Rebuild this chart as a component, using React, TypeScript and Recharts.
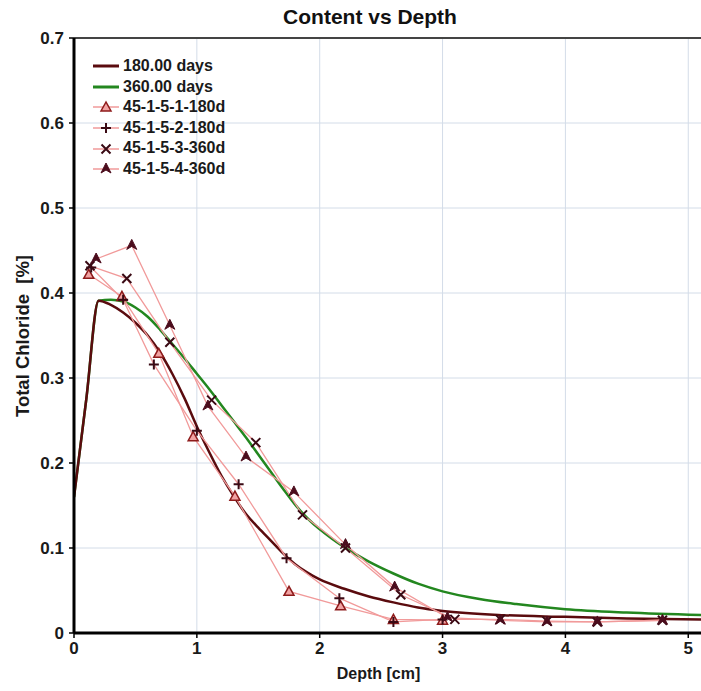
import React from 'react';
import { LineChart, Line, XAxis, YAxis, CartesianGrid, Legend, ReferenceLine } from 'recharts';

// model curves
const depth180 = [0, 0.1, 0.2, 0.3, 0.4, 0.5, 0.6, 0.7, 0.8, 0.9, 1.0, 1.1, 1.2, 1.3, 1.4, 1.5, 1.6, 1.7, 1.8, 1.9, 2.0, 2.2, 2.4, 2.6, 2.8, 3.0, 3.5, 4.0, 4.5, 5.12];
const chloride180 = [0.16, 0.275, 0.391, 0.386, 0.377, 0.365, 0.35, 0.33, 0.305, 0.276, 0.243, 0.213, 0.185, 0.161, 0.14, 0.124, 0.109, 0.094, 0.081, 0.071, 0.063, 0.052, 0.043, 0.036, 0.03, 0.026, 0.021, 0.019, 0.017, 0.016];
const depth360 = [0, 0.1, 0.2, 0.3, 0.4, 0.5, 0.6, 0.7, 0.8, 0.9, 1.0, 1.1, 1.2, 1.3, 1.4, 1.5, 1.6, 1.7, 1.8, 1.9, 2.0, 2.1, 2.2, 2.4, 2.6, 2.8, 3.0, 3.3, 3.6, 4.0, 4.5, 5.12];
const chloride360 = [0.16, 0.275, 0.391, 0.392, 0.39, 0.383, 0.372, 0.357, 0.34, 0.323, 0.305, 0.287, 0.268, 0.249, 0.23, 0.21, 0.19, 0.17, 0.151, 0.135, 0.122, 0.111, 0.101, 0.084, 0.07, 0.058, 0.049, 0.04, 0.034, 0.028, 0.024, 0.021];

// measured profiles
const depthS1 = [0.12, 0.39, 0.69, 0.97, 1.31, 1.75, 2.17, 2.6, 3.0];
const chlorideS1 = [0.422, 0.396, 0.329, 0.231, 0.161, 0.049, 0.032, 0.016, 0.015];
const depthS2 = [0.14, 0.4, 0.65, 1.0, 1.34, 1.73, 2.16, 2.6, 3.0];
const chlorideS2 = [0.43, 0.392, 0.316, 0.238, 0.175, 0.088, 0.041, 0.013, 0.016];
const depthS3 = [0.13, 0.43, 0.78, 1.12, 1.48, 1.86, 2.21, 2.66, 3.1, 3.47, 3.85, 4.26, 4.79];
const chlorideS3 = [0.432, 0.417, 0.342, 0.274, 0.224, 0.139, 0.1, 0.045, 0.016, 0.016, 0.014, 0.013, 0.015];
const depthS4 = [0.18, 0.47, 0.78, 1.09, 1.4, 1.79, 2.21, 2.61, 3.04, 3.47, 3.85, 4.26, 4.79];
const chlorideS4 = [0.44, 0.456, 0.362, 0.267, 0.207, 0.166, 0.104, 0.054, 0.018, 0.015, 0.013, 0.013, 0.015];

const xTicks = [0, 1, 2, 3, 4, 5];
const yTicks = [0, 0.1, 0.2, 0.3, 0.4, 0.5, 0.6, 0.7];
const seriesNames = ['180.00 days', '360.00 days', '45-1-5-1-180d', '45-1-5-2-180d', '45-1-5-3-360d', '45-1-5-4-360d'];

const toPoints = (xs: number[], ys: number[]) => xs.map((x, i) => ({ x, y: ys[i] }));

const FONT = '"Liberation Sans", Arial, sans-serif';
const C180 = '#5a0b0e';
const C360 = '#23871f';
const PINK = '#f19a9a';
const DARK = '#3a0a14';

function OpenTri({ cx, cy }: { cx: number; cy: number }) {
  return <polygon points={`${cx},${cy - 5} ${cx - 5},${cy + 4} ${cx + 5},${cy + 4}`} fill="#f1a3a3" stroke="#8e1b1b" strokeWidth={1.5} />;
}
function Plus({ cx, cy }: { cx: number; cy: number }) {
  return <path d={`M${cx - 5},${cy} H${cx + 5} M${cx},${cy - 5} V${cy + 5}`} stroke={DARK} strokeWidth={2} fill="none" />;
}
function Cross({ cx, cy }: { cx: number; cy: number }) {
  return <path d={`M${cx - 4.5},${cy - 4.5} L${cx + 4.5},${cy + 4.5} M${cx + 4.5},${cy - 4.5} L${cx - 4.5},${cy + 4.5}`} stroke={DARK} strokeWidth={2} fill="none" />;
}
function FilledTri({ cx, cy }: { cx: number; cy: number }) {
  return <polygon points={`${cx},${cy - 6} ${cx + 5},${cy + 4} ${cx},${cy + 1} ${cx - 5},${cy + 4}`} fill="#4b0c1c" stroke="#4b0c1c" strokeWidth={1} />;
}

const markers = [OpenTri, Plus, Cross, FilledTri];

const dotFor = (Shape: any) => (p: any) => (
  <g key={`d-${p.index}`}>
    <Shape cx={p.cx} cy={p.cy} />
  </g>
);

function LegendBox() {
  return (
    <div style={{ fontFamily: FONT, fontWeight: 'bold', fontSize: 16, color: '#1a1a1a', lineHeight: '20.6px' }}>
      {seriesNames.map((name, i) => {
        const Shape = i >= 2 ? markers[i - 2] : null;
        const col = i === 0 ? C180 : i === 1 ? C360 : PINK;
        return (
          <div key={name} style={{ display: 'flex', alignItems: 'center', height: 20.6 }}>
            <svg width={28} height={14} style={{ marginRight: 3 }}>
              <line x1={1} y1={7} x2={27} y2={7} stroke={col} strokeWidth={i < 2 ? 3 : 1.5} />
              {Shape ? <Shape cx={14} cy={7} /> : null}
            </svg>
            <span>{name}</span>
          </div>
        );
      })}
    </div>
  );
}

export default function App() {
  const tickStyle = { fill: '#1a1a1a', fontSize: 17, fontWeight: 'bold', fontFamily: FONT };
  const measured = [
    toPoints(depthS1, chlorideS1),
    toPoints(depthS2, chlorideS2),
    toPoints(depthS3, chlorideS3),
    toPoints(depthS4, chlorideS4),
  ];
  return (
    <div style={{ position: 'absolute', left: 0, top: 0, width: 701, height: 691, overflow: 'hidden', background: '#fff' }}>
      <div style={{ position: 'absolute', top: 5, left: 0, width: 740, textAlign: 'center', fontFamily: FONT, fontWeight: 'bold', fontSize: 21, color: '#111' }}>
        Content vs Depth
      </div>
      <LineChart width={703} height={691} margin={{ top: 38, right: 0, bottom: 28, left: 44 }}>
        <CartesianGrid stroke="#d3dce8" strokeWidth={1} verticalValues={xTicks} horizontalValues={yTicks} />
        <XAxis
          type="number"
          dataKey="x"
          domain={[0, 5.12]}
          ticks={xTicks}
          allowDataOverflow
          height={30}
          tick={tickStyle}
          tickSize={5}
          tickMargin={4}
          axisLine={{ stroke: '#000', strokeWidth: 3 }}
          tickLine={{ stroke: '#000', strokeWidth: 1.5 }}
          label={{ value: 'Depth [cm]', position: 'bottom', offset: 5, dx: -10, style: { fill: '#1a1a1a', fontSize: 16, fontWeight: 'bold', fontFamily: FONT } }}
        />
        <YAxis
          type="number"
          dataKey="y"
          domain={[0, 0.7]}
          ticks={yTicks}
          allowDataOverflow
          width={30}
          tick={tickStyle}
          tickSize={5}
          tickMargin={5}
          tickFormatter={(v: number) => (v === 0 ? '0' : v.toFixed(1))}
          axisLine={{ stroke: '#000', strokeWidth: 3 }}
          tickLine={{ stroke: '#000', strokeWidth: 1.5 }}
          label={{
            content: () => (
              <text x={22} y={336} transform="rotate(-90 22 336)" textAnchor="middle" dominantBaseline="central" fill="#1a1a1a" fontSize={18.5} fontWeight="bold" fontFamily={FONT} style={{ whiteSpace: 'pre' }}>
                {'Total Chloride  [%]'}
              </text>
            ),
          }}
        />
        <ReferenceLine y={0.7} stroke="#444" strokeWidth={2} />
        <Legend
          layout="vertical"
          align="center"
          verticalAlign="middle"
          wrapperStyle={{ top: 56, left: 92, width: 'auto' }}
          content={() => <LegendBox />}
        />
        <Line data={toPoints(depth360, chloride360)} dataKey="y" type="monotone" stroke={C360} strokeWidth={2.5} dot={false} isAnimationActive={false} name={seriesNames[1]} />
        <Line data={toPoints(depth180, chloride180)} dataKey="y" type="monotone" stroke={C180} strokeWidth={2.5} dot={false} isAnimationActive={false} name={seriesNames[0]} />
        {measured.map((pts, i) => (
          <Line
            key={seriesNames[i + 2]}
            data={pts}
            dataKey="y"
            type="linear"
            stroke={PINK}
            strokeWidth={1.3}
            dot={dotFor(markers[i])}
            activeDot={false}
            isAnimationActive={false}
            name={seriesNames[i + 2]}
          />
        ))}
      </LineChart>
    </div>
  );
}
